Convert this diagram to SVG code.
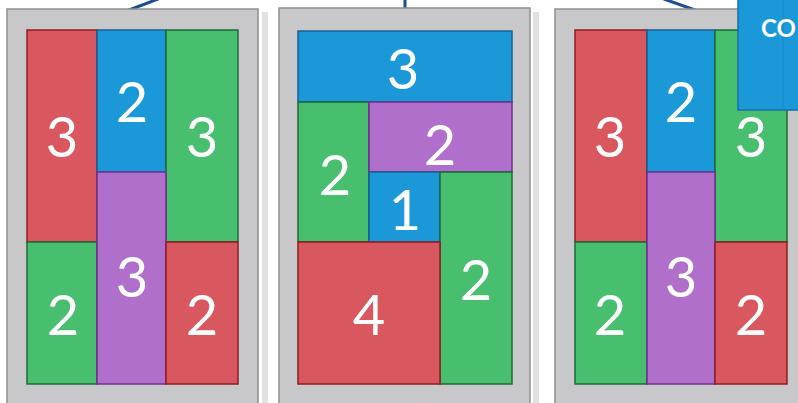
<svg xmlns="http://www.w3.org/2000/svg" width="798" height="403" viewBox="0 0 798 403">
<defs>
<style>
.frame{fill:#c8c8ca;stroke:#8f8f8f;stroke-width:1.5}
.shadow{fill:#c4c4c6;opacity:0.5}
.r{fill:#d9575f;stroke:#8e1c24;stroke-width:1.5}
.g{fill:#47bf6e;stroke:#1d6a3a;stroke-width:1.5}
.b{fill:#1a98d8;stroke:#1b5e92;stroke-width:1.5}
.p{fill:#b06fca;stroke:#6f2f8e;stroke-width:1.5}
.n{font-family:Lato,"Open Sans",sans-serif;font-size:56px;fill:#ffffff;text-anchor:middle}
.conn{stroke:#1f4f8e;stroke-width:3;fill:none;stroke-linecap:round}
.co{font-family:Lato,"Open Sans",sans-serif;font-size:24px;font-weight:bold;fill:#ffffff}
</style>
</defs>
<rect width="798" height="403" fill="#ffffff"/>
<g id="connectors">
<line class="conn" x1="129" y1="10" x2="158" y2="-1"/>
<line class="conn" x1="405" y1="9" x2="405" y2="-1"/>
<line class="conn" x1="695" y1="10" x2="664" y2="-1"/>
</g>
<g id="panel1">
<rect class="shadow" x="262" y="12" width="6" height="395"/>
<rect class="frame" x="7" y="9" width="251" height="396"/>
<rect class="r" x="27" y="30" width="70" height="212"/>
<rect class="b" x="97" y="30" width="69" height="142"/>
<rect class="g" x="166" y="30" width="72" height="212"/>
<rect class="g" x="27" y="242" width="70" height="142"/>
<rect class="p" x="97" y="172" width="69" height="212"/>
<rect class="r" x="166" y="242" width="72" height="142"/>
<text class="n" x="62" y="157">3</text>
<text class="n" x="132" y="122">2</text>
<text class="n" x="202" y="157">3</text>
<text class="n" x="132" y="297">3</text>
<text class="n" x="63" y="335">2</text>
<text class="n" x="202" y="335">2</text>
</g>
<g id="panel2">
<rect class="shadow" x="533" y="12" width="6" height="395"/>
<rect class="frame" x="279" y="8" width="251" height="397"/>
<rect class="b" x="298" y="31" width="214" height="71"/>
<rect class="g" x="298" y="102" width="71" height="140"/>
<rect class="p" x="369" y="102" width="143" height="70"/>
<rect class="b" x="369" y="172" width="71" height="70"/>
<rect class="g" x="440" y="172" width="72" height="212"/>
<rect class="r" x="298" y="242" width="142" height="142"/>
<text class="n" x="403" y="89">3</text>
<text class="n" x="335" y="195">2</text>
<text class="n" x="440" y="165">2</text>
<text class="n" x="405" y="230">1</text>
<text class="n" x="476" y="300">2</text>
<text class="n" x="369" y="335">4</text>
</g>
<g id="panel3">
<rect class="frame" x="555" y="9" width="251" height="396"/>
<rect class="r" x="575" y="30" width="72" height="212"/>
<rect class="b" x="647" y="30" width="68" height="142"/>
<rect class="g" x="715" y="30" width="72" height="212"/>
<rect class="g" x="575" y="242" width="72" height="142"/>
<rect class="p" x="647" y="172" width="68" height="212"/>
<rect class="r" x="715" y="242" width="72" height="142"/>
<text class="n" x="610" y="157">3</text>
<text class="n" x="681" y="122">2</text>
<text class="n" x="751" y="157">3</text>
<text class="n" x="681" y="297">3</text>
<text class="n" x="610" y="335">2</text>
<text class="n" x="751" y="335">2</text>
</g>
<g id="co-box">
<rect x="738" y="-2" width="70" height="112" fill="#1a98d8" stroke="#1b6ea8" stroke-width="1.5"/>
<line x1="783" y1="0" x2="783" y2="110" stroke="#1787c4" stroke-width="1"/>
<text class="co" x="761" y="37">CO</text>
</g>
</svg>
